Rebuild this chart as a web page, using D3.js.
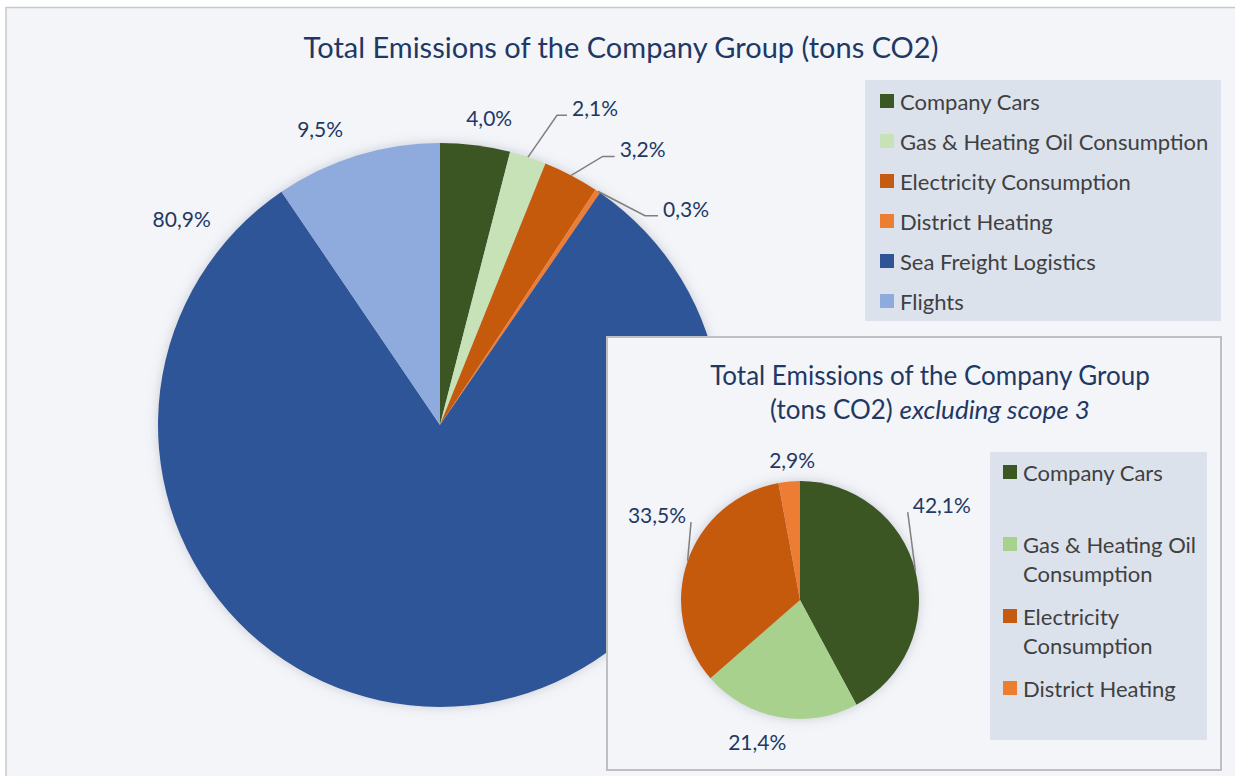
<!DOCTYPE html>
<html>

<head>
  <script src="https://d3js.org/d3.v7.min.js"></script>
  <style>
    body {
      margin: 0;
      background: #fff;
      font-family: 'Lato', sans-serif;
    }

    svg {
      display: block;
    }
  </style>
</head>

<body>
  <svg width="1235" height="776"></svg>
</body>
<script>

  // main chart data
  var mainCats = ["Company Cars", "Gas & Heating Oil Consumption", "Electricity Consumption", "District Heating", "Sea Freight Logistics", "Flights"];
  var mainVals = [4.0, 2.1, 3.2, 0.3, 80.9, 9.5];
  var mainColors = ["#3a5724", "#c7e2b6", "#c55a11", "#ed7d31", "#2f5597", "#8faadc"];

  // inset chart data (excluding scope 3)
  var subCats = [["Company Cars"], ["Gas & Heating Oil", "Consumption"], ["Electricity", "Consumption"], ["District Heating"]];
  var subVals = [42.1, 21.4, 33.5, 2.9];
  var subColors = ["#3a5724", "#a9d18e", "#c55a11", "#ed7d31"];

  var fmt = function (v) { return v.toFixed(1).replace(".", ",") + "%"; };

  var svg = d3.select("svg"),
    width = +svg.attr("width"),
    height = +svg.attr("height");
  var navy = "#1f3864";
  var labelSize = 21, legendSize = 22;

  var defs = svg.append("defs");
  var f = defs.append("filter").attr("id", "glow").attr("x", "-20%").attr("y", "-20%").attr("width", "140%").attr("height", "140%");
  f.append("feGaussianBlur").attr("in", "SourceAlpha").attr("stdDeviation", 6).attr("result", "b");
  f.append("feFlood").attr("flood-color", "#7a7f90").attr("flood-opacity", 0.35);
  f.append("feComposite").attr("in2", "b").attr("operator", "in").attr("result", "s");
  var fm = f.append("feMerge");
  fm.append("feMergeNode").attr("in", "s");
  fm.append("feMergeNode").attr("in", "SourceGraphic");

  // chart area
  svg.append("rect").attr("x", 6).attr("y", 7.5).attr("width", 1260).attr("height", 800)
    .attr("fill", "#f3f5f9").attr("stroke", "#c8c8c8").attr("stroke-width", 1.5);

  svg.append("text").attr("x", 621).attr("y", 58).attr("text-anchor", "middle")
    .attr("font-size", 29).attr("fill", navy)
    .text("Total Emissions of the Company Group (tons CO2)");

  var rad = Math.PI / 180;
  function polar(cx, cy, deg, d) {
    return [cx + d * Math.sin(deg * rad), cy - d * Math.cos(deg * rad)];
  }

  function drawPie(cx, cy, r, vals, colors, labels) {
    var pie = d3.pie().sort(null).value(function (d) { return d; });
    var arcs = pie(vals);
    var arc = d3.arc().innerRadius(0).outerRadius(r);
    var g = svg.append("g").attr("transform", "translate(" + cx + "," + cy + ")");
    g.append("g").attr("filter", "url(#glow)")
      .selectAll("path").data(arcs).enter().append("path")
      .attr("d", arc).attr("fill", function (d, i) { return colors[i]; });

    arcs.forEach(function (a, i) {
      var L = labels[i];
      var mid = (a.startAngle + a.endAngle) / 2 / rad;
      var p = polar(cx, cy, L.a, L.d);
      if (L.leader) {
        var e = polar(cx, cy, mid, r);
        var pts = [e, p];
        var tx = p[0] + (L.anchor === "end" ? -5 : 5);
        if (L.h) {
          pts.push([p[0] + L.h, p[1]]);
          tx = p[0] + L.h + 5;
        }
        svg.append("path").attr("d", d3.line()(pts))
          .attr("fill", "none").attr("stroke", "#7f7f7f").attr("stroke-width", 1.5);
        svg.append("text").attr("x", tx).attr("y", p[1] + 1)
          .attr("text-anchor", L.anchor).attr("font-size", labelSize).attr("fill", navy)
          .text(fmt(vals[i]));
      } else {
        svg.append("text").attr("x", p[0]).attr("y", p[1])
          .attr("text-anchor", "middle").attr("dominant-baseline", "central")
          .attr("font-size", labelSize).attr("fill", navy)
          .text(fmt(vals[i]));
      }
    });
  }

  // main pie
  drawPie(440, 425, 282, mainVals, mainColors, [
    { a: 9.1, d: 311 },
    { a: 20.7, d: 331, leader: true, h: 10, anchor: "start" },
    { a: 31.2, d: 314, leader: true, h: 12, anchor: "start" },
    { a: 44.4, d: 293, leader: true, h: 13, anchor: "start" },
    { a: -51.3, d: 331 },
    { a: -22.0, d: 320 }
  ]);

  // main legend
  var leg = svg.append("g");
  leg.append("rect").attr("x", 865).attr("y", 80).attr("width", 356).attr("height", 241).attr("fill", "#dce2ec");
  mainCats.forEach(function (c, i) {
    var y = 101 + i * 40;
    leg.append("rect").attr("x", 880).attr("y", y - 7).attr("width", 14).attr("height", 14).attr("fill", mainColors[i]);
    leg.append("text").attr("x", 900).attr("y", y).attr("dominant-baseline", "central")
      .attr("font-size", legendSize).attr("fill", "#404040").text(c);
  });

  // inset box
  svg.append("rect").attr("x", 607).attr("y", 337).attr("width", 614).attr("height", 433)
    .attr("fill", "#f3f5f9").attr("stroke", "#bfbfbf").attr("stroke-width", 2);

  var t2 = svg.append("text").attr("text-anchor", "middle").attr("font-size", 26).attr("fill", navy);
  t2.append("tspan").attr("x", 930).attr("y", 385).text("Total Emissions of the Company Group");
  var l2 = t2.append("tspan").attr("x", 930).attr("y", 419);
  l2.append("tspan").text("(tons CO2) ");
  l2.append("tspan").attr("font-style", "italic").text("excluding scope 3");

  drawPie(800, 600, 119, subVals, subColors, [
    { a: 50.8, d: 139, leader: true, anchor: "start" },
    { a: 196.8, d: 148 },
    { a: -54.4, d: 134, leader: true, anchor: "end" },
    { a: -3.2, d: 141 }
  ]);

  // inset legend
  var leg2 = svg.append("g");
  leg2.append("rect").attr("x", 990).attr("y", 452).attr("width", 217).attr("height", 288).attr("fill", "#dce2ec");
  subCats.forEach(function (lines, i) {
    var y = 472 + i * 72;
    leg2.append("rect").attr("x", 1003).attr("y", y - 7).attr("width", 14).attr("height", 14).attr("fill", subColors[i]);
    lines.forEach(function (ln, j) {
      leg2.append("text").attr("x", 1023).attr("y", y + j * 29).attr("dominant-baseline", "central")
        .attr("font-size", legendSize).attr("fill", "#404040").text(ln);
    });
  });

</script>

</html>
